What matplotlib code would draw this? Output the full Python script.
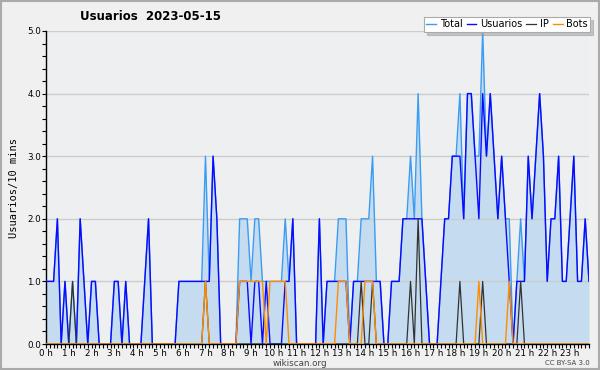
import numpy as np
import matplotlib
matplotlib.use("Agg")
import matplotlib.pyplot as plt
from matplotlib.patches import Rectangle

# one row per hour, six 10-minute slots each
usuarios = [
    1, 1, 1, 2, 0, 1,   # 0 h
    0, 0, 0, 2, 1, 0,   # 1 h
    1, 1, 0, 0, 0, 0,   # 2 h
    1, 1, 0, 1, 0, 0,   # 3 h
    0, 0, 1, 2, 0, 0,   # 4 h
    0, 0, 0, 0, 0, 1,   # 5 h
    1, 1, 1, 1, 1, 1,   # 6 h
    1, 1, 3, 2, 0, 0,   # 7 h
    0, 0, 0, 1, 1, 1,   # 8 h
    0, 1, 1, 0, 1, 0,   # 9 h
    0, 0, 0, 1, 1, 2,   # 10 h
    0, 0, 0, 0, 0, 0,   # 11 h
    2, 0, 1, 1, 1, 1,   # 12 h
    1, 1, 0, 1, 1, 1,   # 13 h
    1, 1, 1, 1, 1, 0,   # 14 h
    0, 1, 1, 1, 2, 2,   # 15 h
    2, 2, 2, 2, 1, 0,   # 16 h
    0, 0, 1, 2, 2, 3,   # 17 h
    3, 3, 2, 4, 4, 3,   # 18 h
    2, 4, 3, 4, 3, 2,   # 19 h
    3, 2, 1, 0, 1, 1,   # 20 h
    1, 3, 2, 3, 4, 3,   # 21 h
    1, 2, 2, 3, 1, 1,   # 22 h
    2, 3, 1, 1, 2, 1,   # 23 h
]

ip = [
    0, 0, 0, 0, 0, 0,
    0, 1, 0, 0, 0, 0,
    0, 0, 0, 0, 0, 0,
    0, 0, 0, 0, 0, 0,
    0, 0, 0, 0, 0, 0,
    0, 0, 0, 0, 0, 0,
    0, 0, 0, 0, 0, 0,
    1, 0, 0, 0, 0, 0,
    0, 0, 0, 0, 0, 0,
    0, 0, 0, 0, 0, 0,
    0, 0, 0, 0, 0, 0,
    0, 0, 0, 0, 0, 0,
    0, 0, 0, 0, 0, 0,
    0, 0, 0, 0, 0, 1,
    0, 0, 1, 0, 0, 0,
    0, 0, 0, 0, 0, 0,
    1, 0, 2, 0, 0, 0,
    0, 0, 0, 0, 0, 0,
    0, 1, 0, 0, 0, 0,
    0, 1, 0, 0, 0, 0,
    0, 0, 0, 0, 0, 1,
    0, 0, 0, 0, 0, 0,
    0, 0, 0, 0, 0, 0,
    0, 0, 0, 0, 0, 0,
]

bots = [
    0, 0, 0, 0, 0, 0,
    0, 0, 0, 0, 0, 0,
    0, 0, 0, 0, 0, 0,
    0, 0, 0, 0, 0, 0,
    0, 0, 0, 0, 0, 0,
    0, 0, 0, 0, 0, 0,
    0, 0, 0, 0, 0, 0,
    1, 0, 0, 0, 0, 0,
    0, 0, 0, 1, 1, 1,
    1, 1, 1, 1, 0, 1,
    1, 1, 1, 1, 0, 0,
    0, 0, 0, 0, 0, 0,
    0, 0, 0, 0, 0, 1,
    1, 1, 0, 0, 0, 0,
    1, 1, 1, 0, 0, 0,
    0, 0, 0, 0, 0, 0,
    0, 0, 0, 0, 0, 0,
    0, 0, 0, 0, 0, 0,
    0, 0, 0, 0, 0, 0,
    1, 0, 0, 0, 0, 0,
    0, 0, 1, 0, 0, 0,
    0, 0, 0, 0, 0, 0,
    0, 0, 0, 0, 0, 0,
    0, 0, 0, 0, 0, 0,
]

total = [
    1, 1, 1, 2, 0, 1,
    0, 1, 0, 2, 1, 0,
    1, 1, 0, 0, 0, 0,
    1, 1, 0, 1, 0, 0,
    0, 0, 1, 2, 0, 0,
    0, 0, 0, 0, 0, 1,
    1, 1, 1, 1, 1, 1,
    3, 1, 3, 2, 0, 0,
    0, 0, 0, 2, 2, 2,
    1, 2, 2, 1, 1, 1,
    1, 1, 1, 2, 1, 2,
    0, 0, 0, 0, 0, 0,
    2, 0, 1, 1, 1, 2,
    2, 2, 0, 1, 1, 2,
    2, 2, 3, 1, 1, 0,
    0, 1, 1, 1, 2, 2,
    3, 2, 4, 2, 1, 0,
    0, 0, 1, 2, 2, 3,
    3, 4, 2, 4, 4, 3,
    3, 5, 3, 4, 3, 2,
    3, 2, 2, 0, 1, 2,
    1, 3, 2, 3, 4, 3,
    1, 2, 2, 3, 1, 1,
    2, 3, 1, 1, 2, 1,
]

hours = list(range(24))
hour_labels = [str(h) + " h" for h in hours]

x = np.arange(len(total)) / 6.0

fig = plt.figure(figsize=(6, 3.7), dpi=100, facecolor="#f0f0f0")
ax = fig.add_axes([46 / 600, 26 / 370, 543 / 600, 313 / 370])
ax.set_facecolor("#eeeff1")

ax.fill_between(x, total, 0, color="#c5dcf0", lw=0, zorder=1)
ax.plot(x, total, color="#3a9cf2", lw=1.0, label="Total", zorder=3)
ax.plot(x, usuarios, color="#0a0aff", lw=1.0, label="Usuarios", zorder=4)
ax.plot(x, ip, color="#333333", lw=0.9, label="IP", zorder=5)
ax.plot(x, bots, color="#ff8c00", lw=1.0, label="Bots", zorder=6)

ax.set_xlim(0, x[-1])
ax.set_ylim(0, 5)
ax.set_xticks(hours)
ax.set_xticklabels(hour_labels, fontsize=6.3)
ax.set_xticks(np.arange(0, x[-1] + 0.01, 1 / 6.0), minor=True)
ax.set_yticks(range(6))
ax.set_yticklabels(["%.1f" % v for v in range(6)], fontsize=6.3)
ax.set_yticks(np.arange(0, 5.01, 0.2), minor=True)
ax.tick_params(which="both", direction="out", length=3, width=0.8, pad=0.5)
ax.grid(axis="y", which="major", color="#cccccc", lw=1, zorder=0)
for s in ["top", "right"]:
    ax.spines[s].set_visible(False)
ax.spines["left"].set_linewidth(1)
ax.spines["bottom"].set_linewidth(1)

ax.set_ylabel("Usuarios/10 mins", family="DejaVu Sans Mono", fontsize=7.5, labelpad=6)

fig.text(151 / 600, 1 - 17 / 370, "Usuarios  2023-05-15", ha="center", va="center",
         fontsize=8.5, fontweight="bold")

leg = ax.legend(loc="upper right", bbox_to_anchor=(590 / 600, 1 - 17 / 370),
                bbox_transform=fig.transFigure, ncol=4, fontsize=7,
                frameon=True, fancybox=False, shadow={"color": "#999999"},
                edgecolor="#aaaaaa", handlelength=1.0, handletextpad=0.35,
                columnspacing=0.45, borderpad=0.25, borderaxespad=0)
leg.get_frame().set_linewidth(0.8)
leg.set_zorder(10)

fig.text(300 / 600, 1 - 363 / 370, "wikiscan.org", ha="center", va="center",
         fontsize=6.3, color="#444444")
fig.text(590 / 600, 1 - 363 / 370, "CC BY-SA 3.0", ha="right", va="center",
         fontsize=5, color="#444444")

fig.patches.append(Rectangle((0.002, 0.003), 0.996, 0.994, transform=fig.transFigure,
                             fill=False, edgecolor="#aaaaaa", lw=1.5))

fig.savefig("out.png", dpi=100, facecolor=fig.get_facecolor())
